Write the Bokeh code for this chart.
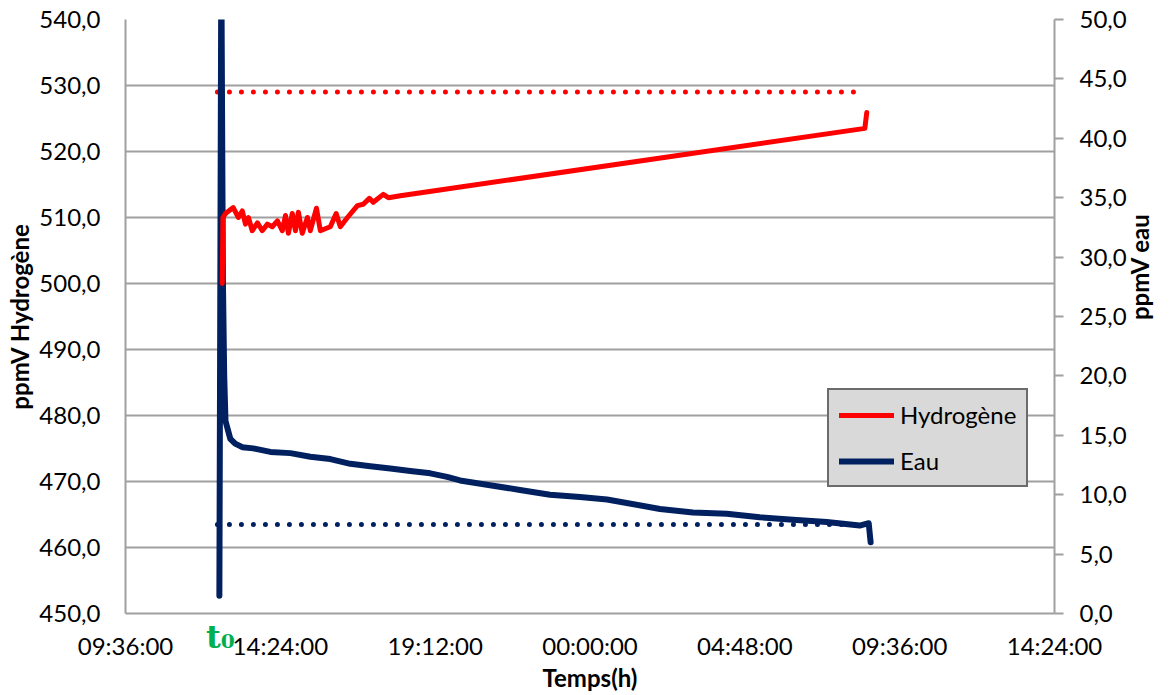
import math
from bokeh.plotting import figure
from bokeh.models import (Range1d, LinearAxis, FixedTicker, Legend, LegendItem,
                          CustomJSTickFormatter)
from bokeh.embed import file_html
from bokeh.resources import INLINE

# ---- data (time in decimal hours from midnight of day 1) ----
x_ticks = [9.6, 14.4, 19.2, 24.0, 28.8, 33.6, 38.4]
x_tick_labels = ["09:36:00", "14:24:00", "19:12:00", "00:00:00",
                 "04:48:00", "09:36:00", "14:24:00"]
h2_ticks = [450, 460, 470, 480, 490, 500, 510, 520, 530, 540]
eau_ticks = [0, 5, 10, 15, 20, 25, 30, 35, 40, 45, 50]
t0_time = 12.54

h2_time = [12.60, 12.62, 12.70, 12.94, 13.10, 13.22, 13.32, 13.41, 13.53, 13.69,
           13.84, 14.00, 14.15, 14.31, 14.46, 14.56, 14.65, 14.77, 14.87, 14.96,
           15.08, 15.24, 15.33, 15.52, 15.64, 15.79, 15.95, 16.13, 16.26, 16.48,
           16.79, 16.97, 17.16, 17.28, 17.59, 17.75, 18.12, 32.52, 32.58]
h2_ppm = [500.0, 510.0, 510.6, 511.5, 510.0, 511.0, 509.0, 510.0, 508.0, 509.2,
          508.0, 509.0, 508.6, 509.5, 508.0, 510.3, 507.6, 510.6, 508.0, 510.8,
          507.6, 510.0, 508.0, 511.4, 508.0, 508.3, 508.6, 510.6, 508.6, 510.0,
          511.8, 512.0, 512.9, 512.3, 513.5, 513.0, 513.3, 523.5, 525.9]

eau_time = [12.51, 12.57, 12.62, 12.66, 12.70, 12.85, 13.00, 13.22, 13.56, 14.09,
            14.71, 15.33, 15.95, 16.57, 17.19, 17.81, 18.43, 19.05, 19.57, 19.97,
            20.90, 21.83, 22.76, 23.69, 24.53, 26.17, 27.19, 28.24, 29.26, 30.29,
            31.34, 32.36, 32.64, 32.70]
eau_ppm = [1.5, 55.0, 28.0, 20.0, 16.2, 14.7, 14.3, 14.0, 13.9, 13.6,
           13.5, 13.2, 13.0, 12.6, 12.4, 12.2, 12.0, 11.8, 11.5, 11.2,
           10.8, 10.4, 10.0, 9.8, 9.6, 8.8, 8.5, 8.4, 8.1, 7.9,
           7.7, 7.4, 7.6, 6.0]

h2_seuil_time = [12.45, 32.27]
h2_seuil = [529.0, 529.0]
eau_seuil_time = [12.45, 32.50]
eau_seuil = [7.5, 7.5]

RED = "#ff0000"
NAVY = "#002060"
GRID = "#a0a0a0"
GREEN = "#00b050"
FONT = "Lato"

p = figure(width=1171, height=695, output_backend="svg", toolbar_location=None,
           x_range=Range1d(9.6, 38.4), y_range=Range1d(450, 540),
           min_border_left=125, min_border_right=116, min_border_top=19,
           min_border_bottom=82)
p.outline_line_color = None
p.background_fill_color = "white"
p.border_fill_color = "white"

p.extra_y_ranges = {"eau": Range1d(0, 50)}

# grid
p.xgrid.visible = False
p.ygrid.grid_line_color = GRID
p.ygrid.grid_line_width = 2
p.ygrid.ticker = FixedTicker(ticks=h2_ticks)

comma_fmt = CustomJSTickFormatter(code="return tick.toFixed(1).replace('.', ',');")

# left axis
ly = p.yaxis[0]
ly.ticker = FixedTicker(ticks=h2_ticks)
ly.formatter = comma_fmt
ly.axis_line_color = GRID
ly.axis_line_width = 2
ly.major_tick_out = 0
ly.major_tick_in = 0
ly.minor_tick_line_color = None
ly.major_label_standoff = 25
ly.major_label_text_font = FONT
ly.major_label_text_font_size = "24px"
ly.major_label_text_color = "black"
ly.axis_label = "ppmV Hydrogène"
ly.axis_label_text_font = FONT
ly.axis_label_text_font_style = "bold"
ly.axis_label_text_font_size = "24px"
ly.axis_label_text_color = "black"
ly.axis_label_standoff = 2

# t0 marker: a label-only axis right under the frame (also draws the axis line)
t0_axis = LinearAxis(ticker=FixedTicker(ticks=[t0_time]))
t0_axis.major_label_overrides = {t0_time: "t\u2080"}
t0_axis.axis_line_color = GRID
t0_axis.axis_line_width = 2
t0_axis.major_tick_line_color = None
t0_axis.major_tick_out = 0
t0_axis.major_tick_in = 0
t0_axis.minor_tick_line_color = None
t0_axis.major_label_text_font = "DejaVu Serif"
t0_axis.major_label_text_font_style = "bold"
t0_axis.major_label_text_font_size = "32px"
t0_axis.major_label_text_color = GREEN
t0_axis.major_label_standoff = 4

# time axis, its labels pulled back up beside the t0 marker
bx = p.xaxis[0]
bx.ticker = FixedTicker(ticks=x_ticks)
bx.major_label_overrides = {t: lab for t, lab in zip(x_ticks, x_tick_labels)}
bx.axis_line_color = None
bx.major_tick_line_color = None
bx.major_tick_out = 0
bx.major_tick_in = 0
bx.minor_tick_line_color = None
bx.major_label_standoff = -28
bx.major_label_text_font = FONT
bx.major_label_text_font_size = "24px"
bx.major_label_text_color = "black"
bx.axis_label = "Temps(h)"
bx.axis_label_text_font = FONT
bx.axis_label_text_font_style = "bold"
bx.axis_label_text_font_size = "24px"
bx.axis_label_text_color = "black"
bx.axis_label_standoff = 0

p.below = [t0_axis, bx]

# right axis
ry = LinearAxis(y_range_name="eau", ticker=FixedTicker(ticks=eau_ticks),
                formatter=comma_fmt)
ry.axis_line_color = GRID
ry.axis_line_width = 2
ry.major_tick_line_color = GRID
ry.major_tick_line_width = 2
ry.major_tick_out = 9
ry.major_tick_in = 0
ry.minor_tick_line_color = None
ry.major_label_standoff = 16
ry.major_label_text_font = FONT
ry.major_label_text_font_size = "24px"
ry.major_label_text_color = "black"

# right axis title (one rotated label starting at 24.7 on the water scale)
rt = LinearAxis(y_range_name="eau", ticker=FixedTicker(ticks=[24.7]))
rt.major_label_overrides = {24.7: "ppmV eau"}
rt.major_label_orientation = math.pi / 2
rt.axis_line_color = None
rt.major_tick_line_color = None
rt.major_tick_out = 0
rt.major_tick_in = 0
rt.minor_tick_line_color = None
rt.major_label_standoff = 10
rt.major_label_text_font = FONT
rt.major_label_text_font_style = "bold"
rt.major_label_text_font_size = "24px"
rt.major_label_text_color = "black"

p.right = [ry, rt]

# threshold dotted lines
p.line(h2_seuil_time, h2_seuil, line_color=RED, line_width=5,
       line_dash="0 12", line_cap="round")
p.line(eau_seuil_time, eau_seuil, line_color=NAVY, line_width=5,
       line_dash="0 12", line_cap="round", y_range_name="eau")

# data lines
r_eau = p.line(eau_time, eau_ppm, line_color=NAVY, line_width=6,
               line_join="round", line_cap="round", y_range_name="eau")
r_h2 = p.line(h2_time, h2_ppm, line_color=RED, line_width=5,
              line_join="round", line_cap="round")

legend = Legend(items=[LegendItem(label="Hydrogène", renderers=[r_h2]),
                       LegendItem(label="Eau", renderers=[r_eau])],
                location=(702, 126))
legend.background_fill_color = "#d9d9d9"
legend.background_fill_alpha = 1
legend.border_line_color = "black"
legend.border_line_width = 2
legend.label_text_font = FONT
legend.label_text_font_size = "24px"
legend.label_text_color = "black"
legend.glyph_width = 55
legend.glyph_height = 28
legend.label_height = 28
legend.spacing = 17
legend.padding = 10
legend.margin = 0
legend.label_standoff = 6
p.add_layout(legend)

open("out.html", "w").write(file_html(p, INLINE))
